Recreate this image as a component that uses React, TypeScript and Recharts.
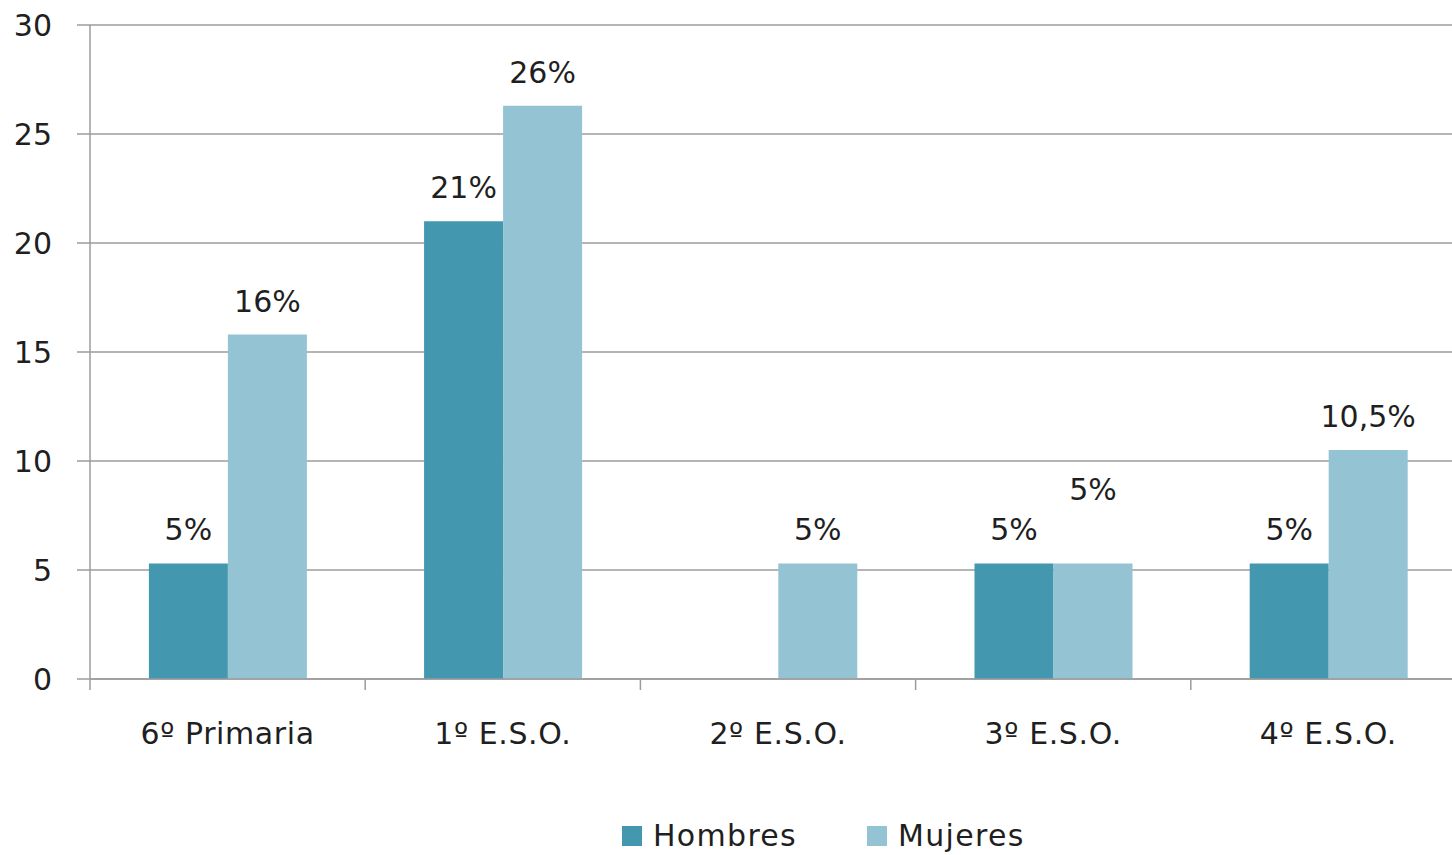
import { BarChart, Bar, XAxis, YAxis, CartesianGrid, Legend, LabelList } from "recharts";

const cursos = ["6º Primaria", "1º E.S.O.", "2º E.S.O.", "3º E.S.O.", "4º E.S.O."];
const hombres = [5.3, 21, 0, 5.3, 5.3];
const mujeres = [15.8, 26.3, 5.3, 5.3, 10.5];
const hombresEtiquetas = ["5%", "21%", "", "5%", "5%"];
const mujeresEtiquetas = ["16%", "26%", "5%", "5%", "10,5%"];
const yTicks = [0, 5, 10, 15, 20, 25, 30];

const data = cursos.map((curso, i) => ({
  curso,
  Hombres: hombres[i],
  Mujeres: mujeres[i],
  hLabel: hombresEtiquetas[i],
  mLabel: mujeresEtiquetas[i],
}));

const FONT = "'DejaVu Sans', sans-serif";
const AXIS = "#9c9c9c";
const TEXT = "#1f1f1f";
const COLOR_H = "#4397af";
const COLOR_M = "#94c3d4";

// the 3º E.S.O. label for Mujeres sits higher in the original
const raisedCurso = "3º E.S.O.";

function CategoryTick(props: any) {
  const { x, y, payload } = props;
  const half = payload.offset || 0;
  return (
    <g>
      <line x1={x - half} y1={y - 8} x2={x - half} y2={y + 3} stroke={AXIS} strokeWidth={1.5} />
      <text x={x} y={y + 57} textAnchor="middle" fill={TEXT} fontSize={30} fontFamily={FONT} letterSpacing={0.6}>
        {payload.value}
      </text>
    </g>
  );
}

function makeLabel(raise: boolean) {
  return (props: any) => {
    const { x, y, width, value, index } = props;
    if (!value) return null;
    const lift = raise && data[index] && data[index].curso === raisedCurso ? 40 : 0;
    return (
      <text
        x={x + width / 2}
        y={y - 23 - lift}
        textAnchor="middle"
        fill={TEXT}
        fontSize={30}
        fontFamily={FONT}
      >
        {value}
      </text>
    );
  };
}

function renderLegend() {
  const items = [
    { name: "Hombres", color: COLOR_H },
    { name: "Mujeres", color: COLOR_M },
  ];
  return (
    <div style={{ display: "flex", alignItems: "center", fontFamily: FONT, fontSize: 30, color: TEXT, letterSpacing: 1.3 }}>
      {items.map((it, i) => (
        <div key={it.name} style={{ display: "flex", alignItems: "center", marginRight: i === 0 ? 70 : 0 }}>
          <span style={{ width: 20, height: 20, background: it.color, display: "inline-block", marginRight: 11 }} />
          <span>{it.name}</span>
        </div>
      ))}
    </div>
  );
}

export default function App() {
  return (
    <div style={{ position: "absolute", left: 0, top: 0, width: 1452, height: 855, overflow: "hidden", background: "#fff" }}>
      <BarChart
        width={1466}
        height={855}
        data={data}
        margin={{ top: 25, right: 0, left: 0, bottom: 0 }}
        barCategoryGap="21.4%"
        barGap={0}
        style={{ fontFamily: FONT }}
      >
        <CartesianGrid horizontal vertical={false} stroke={AXIS} strokeWidth={1.5} strokeOpacity={1} />
        <XAxis
          dataKey="curso"
          height={176}
          axisLine={{ stroke: AXIS, strokeWidth: 1.5 }}
          tickLine={false}
          tick={<CategoryTick />}
          interval={0}
        />
        <YAxis
          width={90}
          domain={[0, 30]}
          ticks={yTicks}
          axisLine={{ stroke: AXIS, strokeWidth: 1.5 }}
          tickLine={{ stroke: AXIS, strokeWidth: 1.5 }}
          tickSize={13}
          tickMargin={25}
          tick={{ fill: TEXT, fontSize: 30, fontFamily: FONT }}
        />
        <Legend
          layout="horizontal"
          verticalAlign="middle"
          content={renderLegend}
          wrapperStyle={{ left: 622, top: 818, width: "auto" }}
        />
        <Bar dataKey="Hombres" fill={COLOR_H} isAnimationActive={false}>
          <LabelList dataKey="hLabel" content={makeLabel(false)} />
        </Bar>
        <Bar dataKey="Mujeres" fill={COLOR_M} isAnimationActive={false}>
          <LabelList dataKey="mLabel" content={makeLabel(true)} />
        </Bar>
      </BarChart>
    </div>
  );
}
